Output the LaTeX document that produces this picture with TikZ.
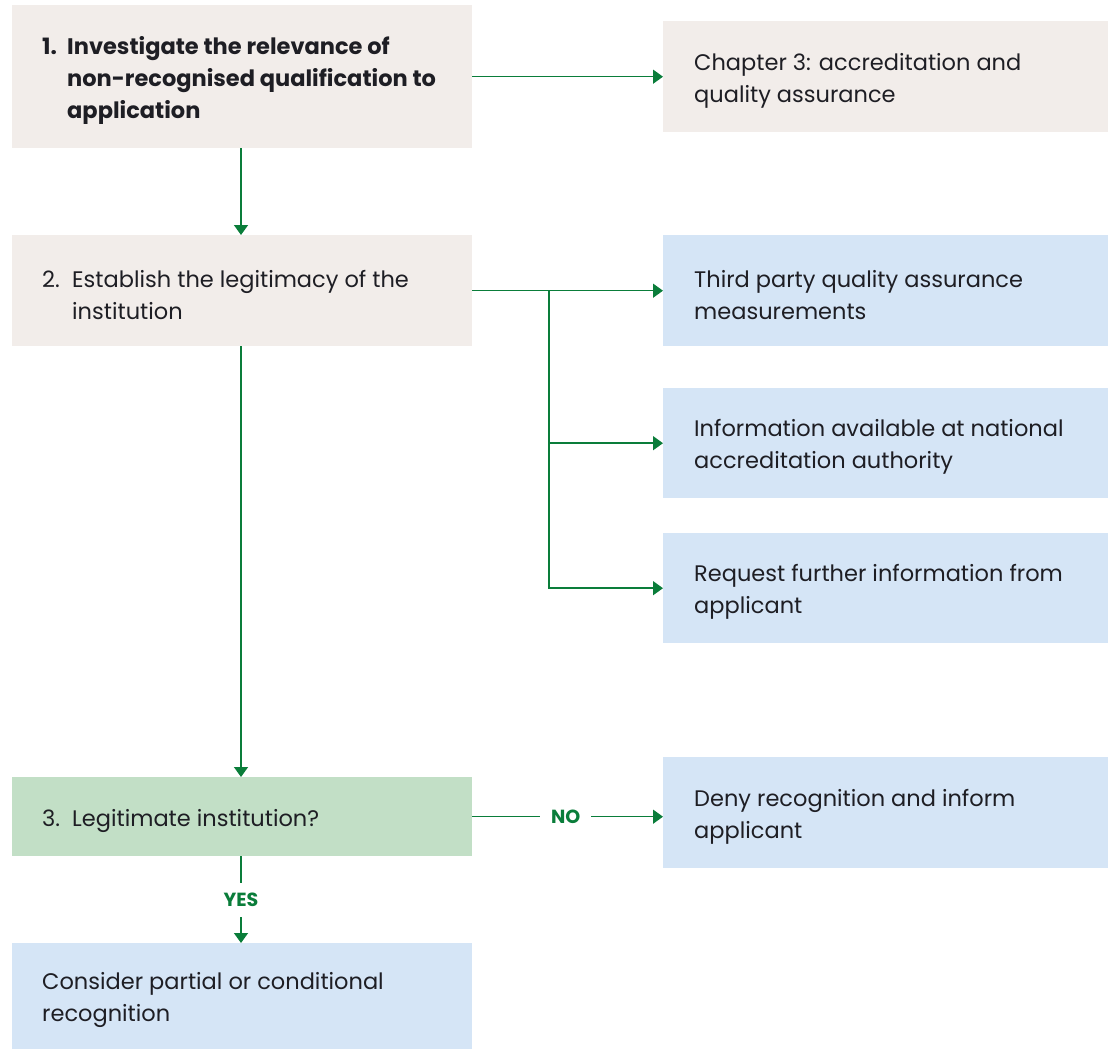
\documentclass[tikz,border=0pt]{standalone}
\usepackage{fontspec}
\setmainfont{Poppins}
\usetikzlibrary{arrows.meta}
\definecolor{beige}{HTML}{F2EDEA}
\definecolor{paleblue}{HTML}{D5E5F6}
\definecolor{palegreen}{HTML}{C2DFC6}
\definecolor{flowgreen}{HTML}{0A7D3A}
\definecolor{ink}{HTML}{1E1E24}
\begin{document}
\begin{tikzpicture}[x=1pt,y=-1pt,
  box/.style={draw=none, rectangle, inner sep=0pt, anchor=north west},
  leftbox/.style={box, minimum width=460pt},
  rightbox/.style={box, minimum width=445pt},
  txt/.style={anchor=west, align=left, inner sep=0pt, text=ink,
    font=\fontsize{22.5}{32}\selectfont},
  flow/.style={draw=flowgreen, line width=1.5pt,
    -{Triangle[length=10pt,width=14pt]}, color=flowgreen},
  tag/.style={fill=white, text=flowgreen, inner xsep=11pt, inner ysep=10pt,
    font=\bfseries\fontsize{19}{22}\selectfont}
]
\useasboundingbox (0,0) rectangle (1108,1049);

% step boxes on the left
\node[leftbox, fill=beige, minimum height=143pt] (s1) at (12,5) {};
\node[leftbox, fill=beige, minimum height=111pt] (s2) at (12,235) {};
\node[leftbox, fill=palegreen, minimum height=79pt] (s3) at (12,777) {};
\node[leftbox, fill=paleblue, minimum height=106pt] (s4) at (12,943) {};

% resource boxes on the right
\node[rightbox, fill=beige, minimum height=111pt] (r1) at (663,21) {};
\node[rightbox, fill=paleblue, minimum height=111pt] (r2) at (663,235) {};
\node[rightbox, fill=paleblue, minimum height=110pt] (r3) at (663,388) {};
\node[rightbox, fill=paleblue, minimum height=110pt] (r4) at (663,533) {};
\node[rightbox, fill=paleblue, minimum height=111pt] (r5) at (663,757) {};

% texts
\node[txt, font=\bfseries\fontsize{22.5}{32}\selectfont] (t1) at ([xshift=55pt,yshift=-4pt]s1.west)
  {\llap{\makebox[25pt][l]{1.}}Investigate the relevance of\\non-recognised qualification to\\application};
\node[txt] (t2) at ([xshift=60pt,yshift=-4pt]s2.west)
  {\llap{\makebox[30pt][l]{2.}}Establish the legitimacy of the\\institution};
\node[txt] (t3) at ([xshift=60pt,yshift=-4pt]s3.west)
  {\llap{\makebox[30pt][l]{3.}}Legitimate institution?};
\node[txt] (t4) at ([xshift=30pt,yshift=-4pt]s4.west)
  {Consider partial or conditional\\recognition};
\node[txt] (u1) at ([xshift=31pt,yshift=-4pt]r1.west)
  {Chapter 3: accreditation and\\quality assurance};
\node[txt] (u2) at ([xshift=31pt,yshift=-4pt]r2.west)
  {Third party quality assurance\\measurements};
\node[txt] (u3) at ([xshift=31pt,yshift=-4pt]r3.west)
  {Information available at national\\accreditation authority};
\node[txt] (u4) at ([xshift=31pt,yshift=-4pt]r4.west)
  {Request further information from\\applicant};
\node[txt] (u5) at ([xshift=31pt,yshift=-4pt]r5.west)
  {Deny recognition and inform\\applicant};

% connectors
\draw[flow] (s1.east |- r1.west) -- (r1.west);
\draw[flow] (s1.south -| 241,0) -- (s2.north -| 241,0);
\draw[flow] (s2.east |- r2.west) -- (r2.west);
\coordinate (fork) at (549,290.5);
\draw[flow] (fork) |- (r3.west);
\draw[flow] (fork) |- (r4.west);
\draw[flow] (s2.south -| 241,0) -- (s3.north -| 241,0);
\draw[flow] (s3.east) -- node[tag, pos=0.49] (no) {NO} (s3.east -| r5.west);
\draw[flow] (s3.south -| 241,0) -- node[tag, pos=0.5] (yes) {YES} (s4.north -| 241,0);
\end{tikzpicture}
\end{document}
